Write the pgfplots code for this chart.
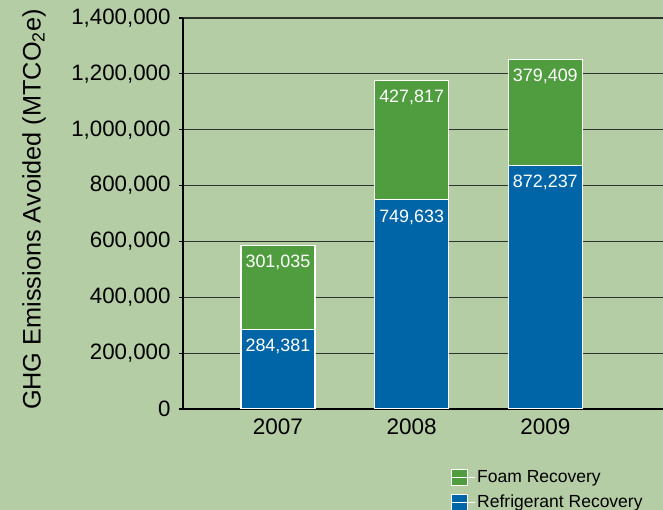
\documentclass[border=0pt]{standalone}
\usepackage{fontspec}
\setmainfont{Liberation Sans}
\usepackage{pgfplots}
\pgfplotsset{compat=1.18}
\definecolor{bg}{RGB}{181,205,165}
\definecolor{fgreen}{RGB}{80,157,64}
\definecolor{rblue}{RGB}{0,101,166}
\definecolor{gridc}{RGB}{45,50,45}
\begin{document}
\begin{tikzpicture}
\fill[bg] (0,0) rectangle (663bp,510bp);
\useasboundingbox (0,0) rectangle (663bp,510bp);
\begin{axis}[
  compat/bar nodes=1.8,
  at={(183bp,101bp)}, anchor=south west,
  scale only axis, width=480bp, height=391bp,
  xmin=-0.71, xmax=2.88, ymin=0, ymax=1400000,
  ybar stacked, bar width=74bp,
  axis x line*=bottom, axis y line*=left,
  axis line style={black, line width=1.3pt},
  xtick={0,1,2}, xticklabels={2007,2008,2009},
  x tick style={draw=none},
  ytick={0,200000,400000,600000,800000,1000000,1200000,1400000},
  scaled y ticks=false,
  /pgf/number format/assume math mode=true,
  tick label style={font=\fontsize{22.3bp}{24bp}\selectfont, black},
  yticklabel style={xshift=-5bp, /pgf/number format/.cd, fixed, precision=0, 1000 sep={,}},
  xticklabel style={font=\fontsize{22.5bp}{25bp}\selectfont, yshift=-2bp},
  tick align=outside, major tick length=4bp,
  y tick style={black, line width=1.2pt},
  ymajorgrids, grid style={gridc, line width=1.1pt},
  ylabel={GHG Emissions Avoided (MTCO\textsubscript{2}e)},
  ylabel style={font=\fontsize{25.3bp}{28bp}\selectfont, at={(axis description cs:-0.31,0.51)}, anchor=center, rotate=0},
  point meta=explicit,
  nodes near coords={\pgfmathprintnumber[fixed,precision=0,1000 sep={,},assume math mode=true]{\pgfplotspointmeta}},
  every node near coord/.append style={anchor=north, yshift=-6bp, text=white, font=\fontsize{17.9bp}{20bp}\selectfont},
  legend style={at={(axis description cs:0.558,-0.152)}, anchor=north west, draw=none, fill=none,
    font=\fontsize{17.5bp}{20bp}\selectfont, row sep=7bp, inner sep=0pt, nodes={inner sep=2bp}},
  legend cell align=left, reverse legend,
  legend image code/.code={\draw[#1, draw=white, line width=1pt] (0bp,-8bp) rectangle (16bp,8bp); \path (0bp,0bp) -- (23bp,0bp);},
]
\addplot[fill=rblue, draw=white, line width=1.2pt] coordinates {(0,284381) [284381] (1,749633) [749633] (2,872237) [872237]};
\addplot[fill=fgreen, draw=white, line width=1.2pt] coordinates {(0,301035) [301035] (1,427817) [427817] (2,379409) [379409]};
\legend{Refrigerant Recovery, Foam Recovery}
\end{axis}
\end{tikzpicture}
\end{document}
